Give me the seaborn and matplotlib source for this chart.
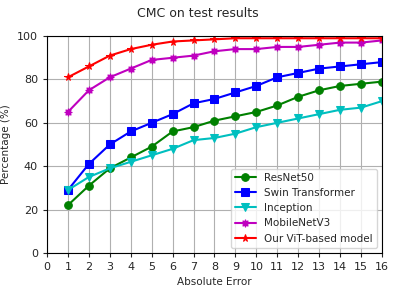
import numpy as np
import pandas as pd
import matplotlib
matplotlib.use("Agg")
import matplotlib.pyplot as plt
import seaborn as sns

errors = list(range(1, 17))
resnet50 = [22, 31, 39, 44, 49, 56, 58, 61, 63, 65, 68, 72, 75, 77, 78, 79]
swin = [29, 41, 50, 56, 60, 64, 69, 71, 74, 77, 81, 83, 85, 86, 87, 88]
inception = [29, 35, 39, 42, 45, 48, 52, 53, 55, 58, 60, 62, 64, 66, 67, 70]
mobilenet = [65, 75, 81, 85, 89, 90, 91, 93, 94, 94, 95, 95, 96, 97, 97, 98]
ours = [81, 86, 91, 94, 96, 97.5, 98, 98.5, 99, 99, 99, 99, 99, 99, 99, 99]

names = ['ResNet50', 'Swin Transformer', 'Inception', 'MobileNetV3', 'Our ViT-based model']
series = [resnet50, swin, inception, mobilenet, ours]
colors = ['g', 'b', 'c', 'm', 'r']
markers = ['o', 's', 'v', (8, 1, 0), '*']

sns.set_style("ticks")
fig = plt.figure(figsize=(3.95, 2.91), dpi=100)
ax = fig.add_axes([0.119, 0.131, 0.848, 0.745])

for name, vals, c, m in zip(names, series, colors, markers):
    df = pd.DataFrame({'err': errors, 'pct': vals})
    sns.lineplot(data=df, x='err', y='pct', color=c, marker=m, markersize=5.5,
                 markeredgecolor=c, linewidth=1.5, label=name, ax=ax)

ax.set_xlim(0, 16)
ax.set_ylim(0, 100)
ax.set_xticks(np.arange(0, 17, 1))
ax.set_yticks(np.arange(0, 101, 20))
ax.grid(True, color='#b0b0b0', linewidth=0.8)
ax.tick_params(labelsize=8, length=3)
ax.set_xlabel('Absolute Error', fontsize=7.5)
ax.set_ylabel('Percentage (%)', fontsize=7.5)
for s in ax.spines.values():
    s.set_color('black')
fig.suptitle('CMC on test results', fontsize=9, y=0.975)
ax.legend(loc='lower right', fontsize=7.5, framealpha=0.8)

fig.savefig('out.png', dpi=100)
